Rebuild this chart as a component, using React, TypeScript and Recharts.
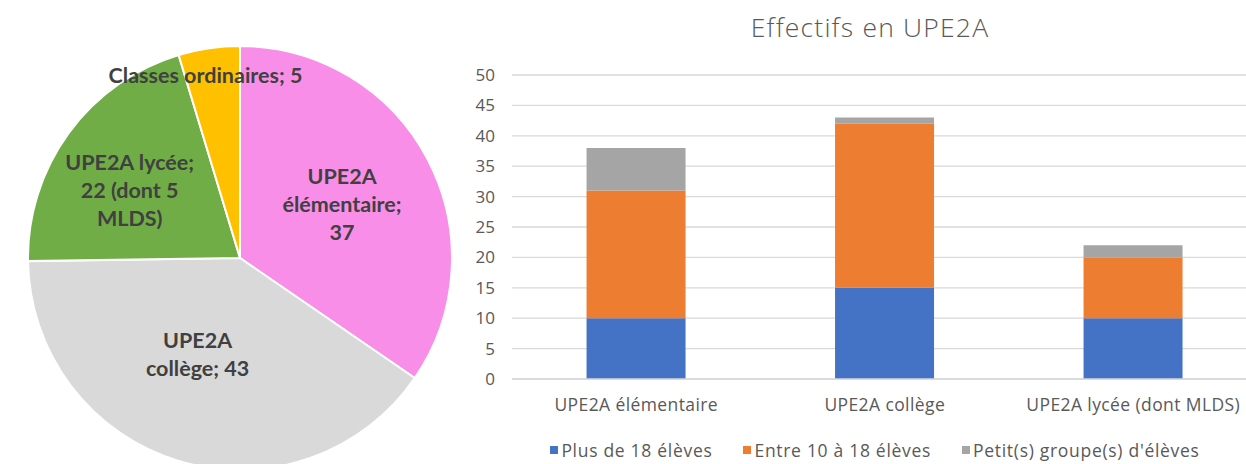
import React from 'react';
import { PieChart, Pie, Cell, BarChart, Bar, XAxis, YAxis, CartesianGrid, Legend } from 'recharts';

// ---------- Pie data ----------
const pieNames = ['UPE2A élémentaire', 'UPE2A collège', 'UPE2A lycée', 'Classes ordinaires'];
const pieValues = [37, 43, 22, 5];
const lyceeMlds = 5;
const pieColors = ['#F98EE8', '#D9D9D9', '#70AD47', '#FFC000'];

// ---------- Bar data ----------
const categories = ['UPE2A élémentaire', 'UPE2A collège', 'UPE2A lycée (dont MLDS)'];
const plus18 = [10, 15, 10];
const entre10a18 = [21, 27, 10];
const petitsGroupes = [7, 1, 2];
const seriesNames = ['Plus de 18 élèves', 'Entre 10 à 18 élèves', "Petit(s) groupe(s) d'élèves"];
const seriesColors = ['#4472C4', '#ED7D31', '#A5A5A5'];
const yTicks = [0, 5, 10, 15, 20, 25, 30, 35, 40, 45, 50];
const chartTitle = 'Effectifs en UPE2A';

const pieData = pieNames.map((name, i) => ({ name, value: pieValues[i] }));
const barData = categories.map((c, i) => ({
  name: c,
  s0: plus18[i],
  s1: entre10a18[i],
  s2: petitsGroupes[i],
}));

const pieLabelLines = (i: number, v: number): string[] => {
  switch (i) {
    case 0:
      return ['UPE2A', 'élémentaire;', String(v)];
    case 1:
      return ['UPE2A', `collège; ${v}`];
    case 2:
      return ['UPE2A lycée;', `${v} (dont ${lyceeMlds}`, 'MLDS)'];
    default:
      return [`Classes ordinaires; ${v}`];
  }
};

// label placement style (radius fraction, angle tweak in degrees)
const labelPlacement = [
  { r: 0.544, da: 0 },
  { r: 0.495, da: -7 },
  { r: 0.61, da: 4.7 },
  { r: 0.874, da: 2.3 },
];

const RAD = Math.PI / 180;
const PIE_FONT = 'Lato, "Noto Sans", sans-serif';
const FONT = '"Open Sans", Lato, sans-serif';

const renderPieLabel = (props: any) => {
  const { cx, cy, midAngle, outerRadius, index, value } = props;
  const p = labelPlacement[index];
  const ang = (midAngle + p.da) * RAD;
  const r = outerRadius * p.r;
  const x = cx + r * Math.cos(-ang);
  const y = cy + r * Math.sin(-ang);
  const lines = pieLabelLines(index, value);
  const lh = 28;
  return (
    <text
      key={`lbl-${index}`}
      x={x}
      y={y}
      textAnchor="middle"
      fill="#404040"
      fontFamily={PIE_FONT}
      fontWeight={700}
      fontSize={21.5}
    >
      {lines.map((l, k) => (
        <tspan key={k} x={x} y={y + (k - (lines.length - 1) / 2) * lh} dy="0.35em">
          {l}
        </tspan>
      ))}
    </text>
  );
};

const LegendContent = () => (
  <div
    style={{
      display: 'flex',
      justifyContent: 'center',
      alignItems: 'center',
      gap: 31,
      fontFamily: FONT,
      fontSize: 17.5,
      letterSpacing: 0.7,
      color: '#595959',
      whiteSpace: 'nowrap',
    }}
  >
    {seriesNames.map((n, i) => (
      <div key={n} style={{ display: 'flex', alignItems: 'center', gap: 3 }}>
        <span style={{ display: 'inline-block', width: 8, height: 8, background: seriesColors[i] }} />
        <span>{n}</span>
      </div>
    ))}
  </div>
);

export default function App() {
  return (
    <div
      style={{
        position: 'absolute',
        left: 0,
        top: 0,
        width: 1246,
        height: 464,
        overflow: 'hidden',
        background: '#ffffff',
      }}
    >
      <div style={{ position: 'absolute', left: 0, top: 0 }}>
        <PieChart width={470} height={480} margin={{ top: 0, right: 0, bottom: 0, left: 0 }}>
          <Pie
            data={pieData}
            dataKey="value"
            nameKey="name"
            cx={240}
            cy={258}
            outerRadius={212}
            startAngle={90}
            endAngle={-270}
            stroke="#ffffff"
            strokeWidth={2}
            isAnimationActive={false}
            label={renderPieLabel}
            labelLine={false}
          >
            {pieData.map((d, i) => (
              <Cell key={d.name} fill={pieColors[i]} />
            ))}
          </Pie>
        </PieChart>
      </div>

      <div
        style={{
          position: 'absolute',
          left: 620,
          top: 9,
          width: 500,
          textAlign: 'center',
          fontFamily: FONT,
          fontSize: 26.5,
          letterSpacing: 1.2,
          color: '#595959',
          fontWeight: 300,
        }}
      >
        {chartTitle}
      </div>

      <div style={{ position: 'absolute', left: 460, top: 0 }}>
        <BarChart
          width={810}
          height={464}
          data={barData}
          margin={{ top: 75, right: 12.5, bottom: 55, left: 0 }}
          barCategoryGap="30%"
        >
          <CartesianGrid vertical={false} stroke="#D9D9D9" strokeWidth={1.3} />
          <XAxis
            dataKey="name"
            axisLine={{ stroke: '#D9D9D9', strokeWidth: 1.3 }}
            tickLine={false}
            tickMargin={14}
            height={30}
            interval={0}
            tick={{ fill: '#595959', fontSize: 17.5, fontFamily: FONT, letterSpacing: 0.4 }}
          />
          <YAxis
            domain={[0, 50]}
            ticks={yTicks}
            axisLine={false}
            tickLine={false}
            tickMargin={11}
            width={52}
            tick={{ fill: '#595959', fontSize: 17, fontFamily: FONT }}
          />
          <Legend
            layout="horizontal"
            verticalAlign="middle"
            align="center"
            content={<LegendContent />}
            wrapperStyle={{ top: 438, left: 40, width: 750, bottom: 'auto' }}
          />
          <Bar dataKey="s0" name={seriesNames[0]} stackId="a" fill={seriesColors[0]} isAnimationActive={false} />
          <Bar dataKey="s1" name={seriesNames[1]} stackId="a" fill={seriesColors[1]} isAnimationActive={false} />
          <Bar dataKey="s2" name={seriesNames[2]} stackId="a" fill={seriesColors[2]} isAnimationActive={false} />
        </BarChart>
      </div>
    </div>
  );
}
